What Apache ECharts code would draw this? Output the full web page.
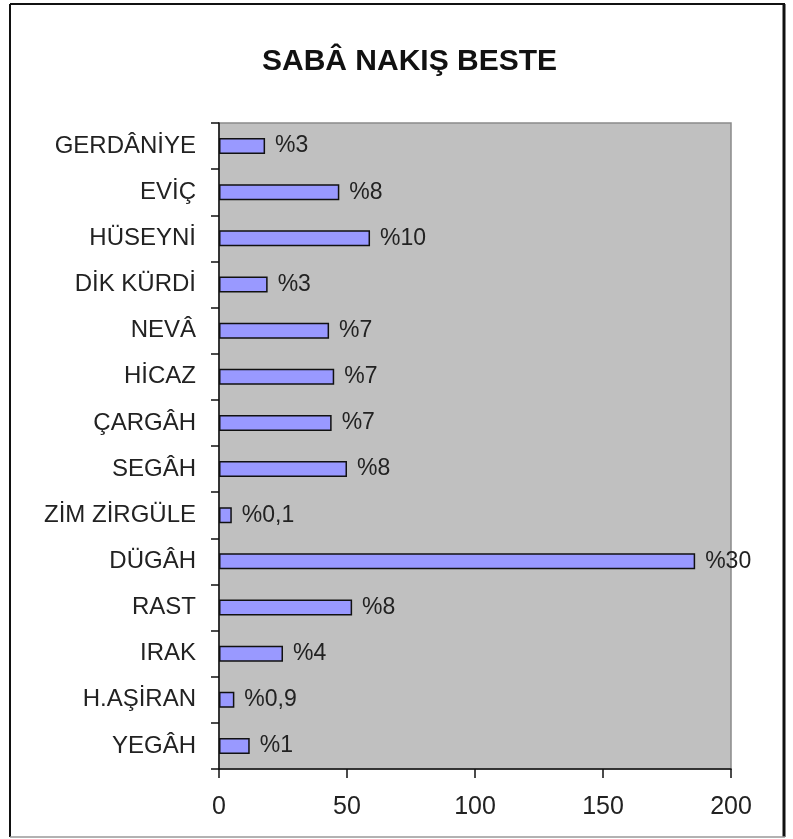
<!DOCTYPE html>
<html>
<head>
<meta charset="utf-8">
<script src="https://cdn.jsdelivr.net/npm/echarts@6/dist/echarts.min.js"></script>
<style>
html,body{margin:0;padding:0;background:#fff;}
#chart{width:793px;height:839px;}
</style>
</head>
<body>
<div id="chart"></div>
<script>
var categories = ['GERDÂNİYE','EVİÇ','HÜSEYNİ','DİK KÜRDİ','NEVÂ','HİCAZ','ÇARGÂH','SEGÂH','ZİM ZİRGÜLE','DÜGÂH','RAST','IRAK','H.AŞİRAN','YEGÂH'];
var values = [18,47,59,19,43,45,44,50,5,186,52,25,6,12];
var percentLabels = ['%3','%8','%10','%3','%7','%7','%7','%8','%0,1','%30','%8','%4','%0,9','%1'];
var xTicks = [0,50,100,150,200];

var labelFont = '"Liberation Sans", Arial, sans-serif';

var myChart = echarts.init(document.getElementById('chart'));

var option = {
    backgroundColor:'#fff',
    animation:false,
    title:{
        text:'SABÂ NAKIŞ BESTE',
        left:257,
        top:42,
        textStyle:{
            fontFamily:labelFont,
            fontSize:30,
            fontWeight:'bold',
            color:'#111'
        }
    },
    grid:{
        left:219,
        right:62,
        top:123,
        bottom:70,
        show:true,
        backgroundColor:'#c0c0c0',
        borderColor:'#8a8a8a',
        borderWidth:1.5
    },
    xAxis:{
        type:'value',
        min:xTicks[0],
        max:xTicks[xTicks.length-1],
        interval:50,
        splitLine:{show:false},
        axisLine:{show:true,lineStyle:{color:'#111',width:1.5}},
        axisTick:{show:true,length:9,lineStyle:{color:'#111',width:1.5}},
        axisLabel:{
            margin:26,
            fontFamily:labelFont,
            fontSize:25,
            color:'#222'
        }
    },
    yAxis:{
        type:'category',
        data:categories,
        inverse:true,
        axisLine:{show:true,lineStyle:{color:'#111',width:1.5}},
        axisTick:{show:true,length:8,lineStyle:{color:'#111',width:1.5}},
        axisLabel:{
            margin:23,
            fontFamily:labelFont,
            fontSize:24,
            color:'#222'
        }
    },
    series:[
        {
            type:'bar',
            data:values,
            barWidth:16,
            itemStyle:{
                color:'#9999ff',
                borderColor:'#111',
                borderWidth:1.5
            },
            label:{
                show:true,
                position:'right',
                distance:10,
                fontFamily:labelFont,
                fontSize:23,
                color:'#222',
                formatter:function(p){ return percentLabels[p.dataIndex]; }
            }
        }
    ],
    graphic:[
        {type:'line',shape:{x1:10,y1:4,x2:785,y2:4},style:{stroke:'#111',lineWidth:2}},
        {type:'line',shape:{x1:10,y1:4,x2:10,y2:837},style:{stroke:'#111',lineWidth:2}},
        {type:'line',shape:{x1:784,y1:4,x2:784,y2:837},style:{stroke:'#111',lineWidth:3}},
        {type:'line',shape:{x1:10,y1:837,x2:785,y2:837},style:{stroke:'#999',lineWidth:1.5}}
    ]
};
myChart.setOption(option);
</script>
</body>
</html>
